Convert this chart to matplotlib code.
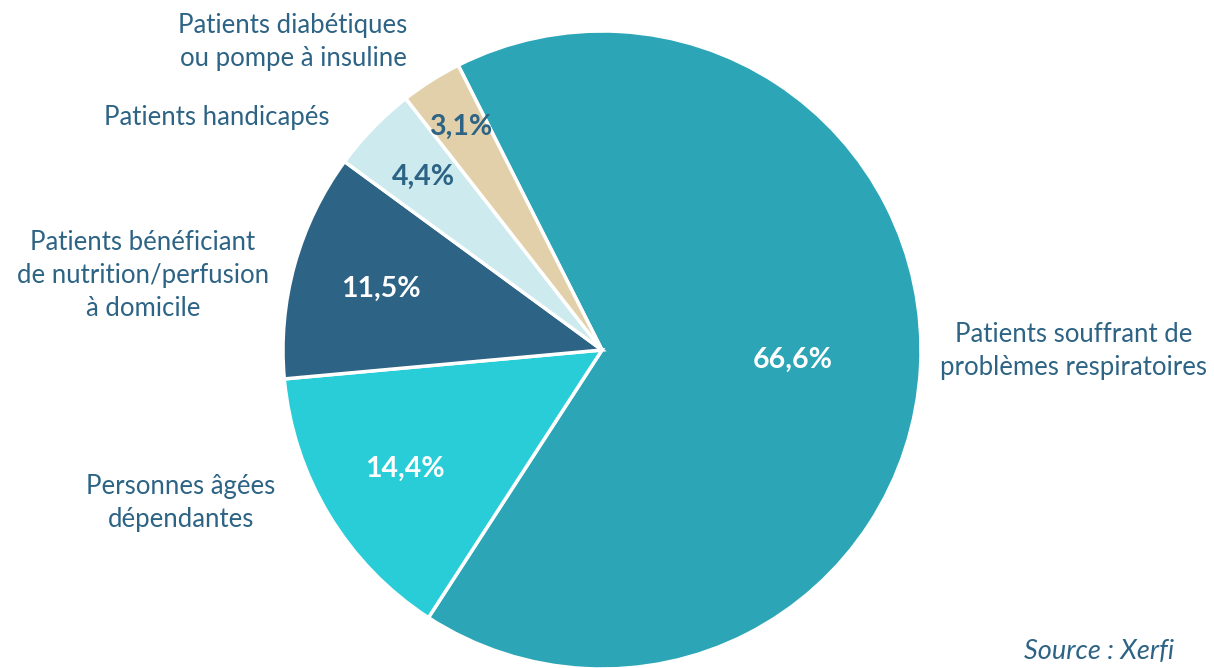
import numpy as np
import matplotlib.pyplot as plt

categories = ['Patients souffrant de\nproblèmes respiratoires',
              'Personnes âgées\ndépendantes',
              'Patients bénéficiant\nde nutrition/perfusion\nà domicile',
              'Patients handicapés',
              'Patients diabétiques\nou pompe à insuline']
values = [66.6, 14.4, 11.5, 4.4, 3.1]
pct_labels = ['66,6%', '14,4%', '11,5%', '4,4%', '3,1%']
slice_colors = ['#2CA6B6', '#29CDD7', '#2D6384', '#CDEBEF', '#E2D0AA']
pct_colors = ['white', 'white', 'white', '#2D6384', '#2D6384']
pct_dist = [0.60, 0.72, 0.72, 0.78, 0.83]
# label anchors (pixel coords, y measured from top)
label_pos = [(1074, 351), (181, 503), (143, 275), (217, 117), (293, 42)]

W, H = 1214, 668
plt.rcParams['font.family'] = ['Lato', 'DejaVu Sans']
txt_color = '#2D6384'

fig = plt.figure(figsize=(W / 100, H / 100), dpi=100)
ax = fig.add_axes([0, 0, 1, 1])

cx, cy, R = 602, H - 350, 319
wedges, _ = ax.pie(values, colors=slice_colors, startangle=116.8,
                   counterclock=False, center=(cx, cy), radius=R,
                   wedgeprops=dict(edgecolor='white', linewidth=2.5))
ax.set_xlim(0, W)
ax.set_ylim(0, H)
ax.set_aspect('equal')
ax.axis('off')

for w, t, c, d in zip(wedges, pct_labels, pct_colors, pct_dist):
    mid = np.deg2rad((w.theta1 + w.theta2) / 2)
    ax.text(cx + R * d * np.cos(mid), cy + R * d * np.sin(mid), t,
            ha='center', va='center', color=c, fontsize=20.5, fontweight='bold')

for lab, (x, y) in zip(categories, label_pos):
    ax.text(x, H - y, lab, ha='center', va='center', multialignment='center',
            color=txt_color, fontsize=18.5, linespacing=1.4)

# source line sits at the very bottom edge
ax.text(1024, 4, 'Source : Xerfi', ha='left', va='bottom', style='italic',
        color=txt_color, fontsize=19.5)

fig.savefig('out.png', dpi=100)
